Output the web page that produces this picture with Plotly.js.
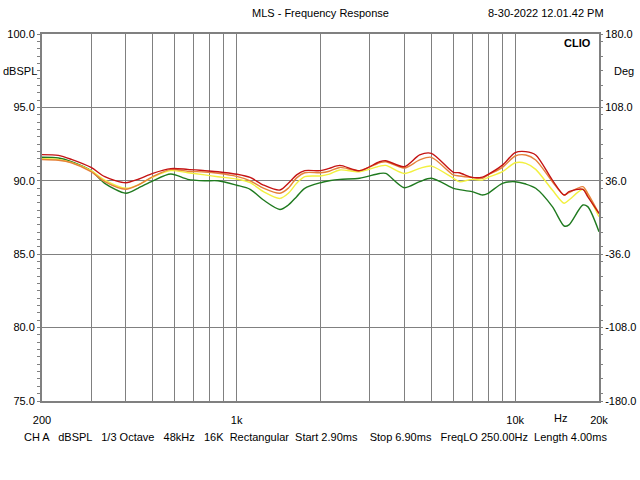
<!DOCTYPE html>
<html>
<head>
<meta charset="utf-8">
<script src="https://cdn.plot.ly/plotly-3.0.1.min.js"></script>
<style>html,body{margin:0;padding:0;background:#fff;}#chart{width:640px;height:480px;}</style>
</head>
<body>
<div id="chart"></div>
<script>
const freq = [200, 229, 255, 300, 336, 400, 442, 500, 580, 667, 768, 857, 1000, 1118, 1248, 1430, 1533, 1642, 1756, 2000, 2150, 2346, 2762, 3260, 3430, 4000, 4540, 5000, 6000, 6300, 7000, 7630, 8000, 9000, 10000, 10920, 11850, 13600, 15000, 15600, 17500, 18220, 20000];
const redDb = [91.78, 91.73, 91.46, 90.91, 90.28, 89.87, 90.10, 90.51, 90.83, 90.78, 90.69, 90.62, 90.45, 90.23, 89.71, 89.37, 89.83, 90.40, 90.69, 90.69, 90.85, 91.05, 90.69, 91.30, 91.37, 90.96, 91.76, 91.87, 90.58, 90.55, 90.23, 90.25, 90.44, 91.07, 91.92, 91.99, 91.76, 90.05, 89.03, 89.26, 89.42, 88.92, 87.78];
const orangeDb = [91.45, 91.40, 91.23, 90.62, 89.94, 89.42, 89.71, 90.28, 90.78, 90.65, 90.60, 90.51, 90.30, 90.00, 89.50, 89.15, 89.50, 90.20, 90.55, 90.55, 90.65, 90.91, 90.69, 91.23, 91.30, 90.87, 91.42, 91.60, 90.40, 90.33, 90.23, 90.17, 90.40, 90.91, 91.69, 91.76, 91.42, 89.94, 89.03, 89.19, 89.60, 89.15, 87.78];
const yellowDb = [91.50, 91.45, 91.25, 90.69, 90.05, 89.49, 89.71, 90.25, 90.69, 90.55, 90.40, 90.28, 90.12, 89.87, 89.26, 88.80, 89.15, 89.83, 90.28, 90.33, 90.45, 90.74, 90.62, 91.00, 91.05, 90.50, 90.85, 91.00, 90.17, 89.94, 90.10, 90.05, 90.23, 90.62, 91.23, 91.19, 90.78, 89.37, 88.47, 88.69, 89.42, 89.03, 87.55];
const greenDb = [91.60, 91.55, 91.30, 90.69, 89.83, 89.15, 89.49, 90.00, 90.46, 90.10, 90.00, 90.00, 89.70, 89.42, 88.69, 88.05, 88.35, 88.92, 89.49, 89.87, 90.00, 90.10, 90.17, 90.50, 90.50, 89.53, 89.94, 90.17, 89.49, 89.40, 89.26, 89.03, 89.15, 89.83, 89.94, 89.78, 89.49, 88.24, 86.92, 87.00, 88.35, 88.24, 86.53];

const xGrid = [200,300,400,500,600,700,800,900,1000,2000,3000,4000,5000,6000,7000,8000,9000,10000,20000];
const xLabels = {200:'200',1000:'1k',10000:'10k',20000:'20k'};
const yTicks = [75,80,85,90,95,100];
const degTicks = [-180,-108,-36,36,108,180];

const fontFam = 'Liberation Sans, Arial, sans-serif';
function tr(y, color, yaxis){ return {x: freq, y: y, type:'scatter', mode:'lines', line:{color:color, width:1.4, shape:'spline', smoothing:0.8}, hoverinfo:'skip', yaxis: yaxis||'y'}; }
const data = [
  tr(greenDb, '#1f7a1f'),
  tr(yellowDb, '#f2f040'),
  tr(orangeDb, '#e5813a'),
  tr(redDb, '#c41414'),
  {x:[200,20000], y:[0,0], type:'scatter', mode:'none', yaxis:'y2', hoverinfo:'skip', showlegend:false}
];
const gray = '#808080';
const layout = {
  width:640, height:480, showlegend:false,
  paper_bgcolor:'#fff', plot_bgcolor:'#fff',
  margin:{l:42, r:41, t:34, b:79},
  font:{family:fontFam, size:11, color:'#000'},
  xaxis:{type:'log', range:[Math.log10(200), Math.log10(20000)], tickmode:'array', tickvals:xGrid,
    ticktext: xGrid.map(v => xLabels[v] || ''), showgrid:true, gridcolor:gray, gridwidth:1,
    showline:true, linecolor:gray, linewidth:2, mirror:true, ticks:'', zeroline:false, fixedrange:true,
    ticklabelstandoff:8,
    tickfont:{family:fontFam, size:11, color:'#000'}},
  yaxis:{range:[75,100], tickmode:'array', tickvals:yTicks, ticktext:yTicks.map(v=>v.toFixed(1)),
    showgrid:true, gridcolor:gray, gridwidth:1, showline:true, linecolor:gray, linewidth:2, mirror:true,
    ticks:'outside', ticklen:3, tickcolor:gray, zeroline:false, fixedrange:true,
    minor:{dtick:0.5, ticks:'outside', ticklen:3, tickcolor:gray, showgrid:false},
    tickfont:{family:fontFam, size:11, color:'#000'}},
  yaxis2:{overlaying:'y', side:'right', range:[-180,180], tickmode:'array', tickvals:degTicks,
    ticktext:degTicks.map(v=>v.toFixed(1)), showgrid:false, zeroline:false, showline:false,
    ticks:'outside', ticklen:3, tickcolor:gray, fixedrange:true,
    minor:{dtick:14.4, ticks:'outside', ticklen:3, tickcolor:gray, showgrid:false},
    tickfont:{family:fontFam, size:11, color:'#000'}},
  annotations:[
    {text:'MLS - Frequency Response', xref:'paper', yref:'paper', x:0.5, y:1, yshift:21, showarrow:false, xanchor:'center', yanchor:'middle', font:{size:11}},
    {text:'8-30-2022 12.01.42 PM', xref:'paper', yref:'paper', x:0.905, y:1, yshift:21, showarrow:false, xanchor:'center', yanchor:'middle', font:{size:11}},
    {text:'<b>CLIO</b>', xref:'paper', yref:'paper', x:0.99, y:0.975, showarrow:false, xanchor:'right', yanchor:'middle', font:{size:11}},
    {text:'dBSPL', xref:'paper', yref:'paper', x:0, xshift:-22, y:0.9, showarrow:false, xanchor:'center', yanchor:'middle', font:{size:11}},
    {text:'Deg', xref:'paper', yref:'paper', x:1, xshift:13, y:0.9, showarrow:false, xanchor:'left', yanchor:'middle', font:{size:11}},
    {text:'Hz', xref:'paper', yref:'paper', x:0.93, y:0, yshift:-17, showarrow:false, xanchor:'center', yanchor:'middle', font:{size:11}},
    {text:'CH A   dBSPL   1/3 Octave   48kHz   16K  Rectangular  Start 2.90ms    Stop 6.90ms   FreqLO 250.00Hz  Length 4.00ms', xref:'paper', yref:'paper', x:-0.036, y:0, yshift:-36, showarrow:false, xanchor:'left', yanchor:'middle', font:{size:11}}
  ]
};
Plotly.newPlot('chart', data, layout, {staticPlot:true, displayModeBar:false});
</script>
</body>
</html>
